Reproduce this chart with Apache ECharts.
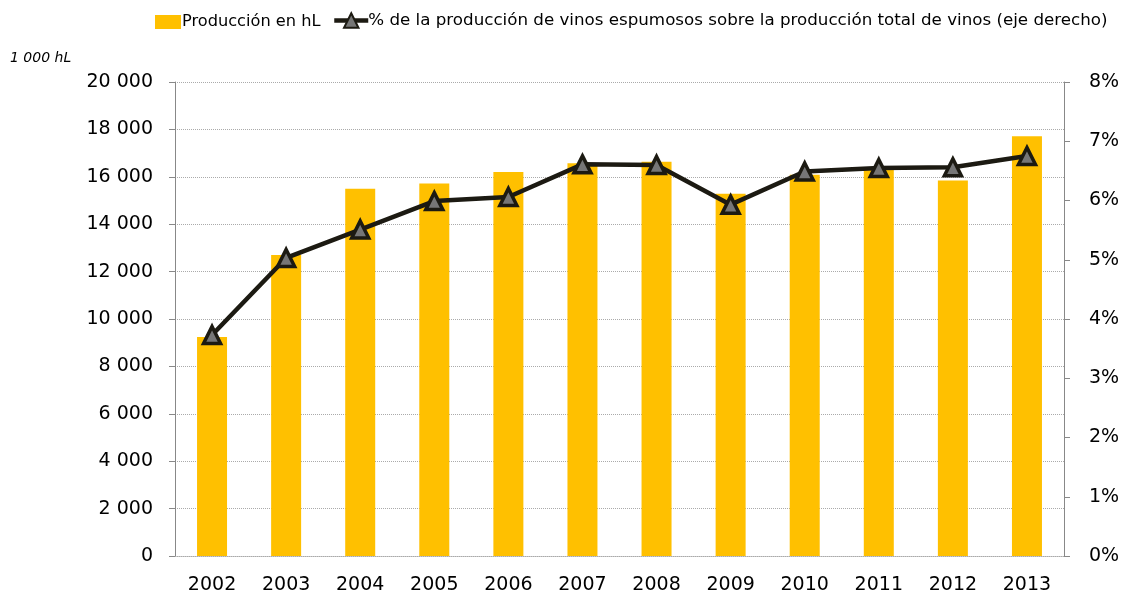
<!DOCTYPE html>
<html><head><meta charset="utf-8">
<script src="https://cdn.jsdelivr.net/npm/echarts@6/dist/echarts.min.js"></script>
<style>html,body{margin:0;padding:0;background:#fff}#c{width:1123px;height:595px}</style>
</head><body><div id="c"></div><script>
const years = ['2002','2003','2004','2005','2006','2007','2008','2009','2010','2011','2012','2013'];
const production = [9240, 12700, 15500, 15720, 16200, 16570, 16630, 15290, 16090, 16330, 15840, 17710];
const sparklingShare = [3.73, 5.03, 5.51, 5.99, 6.06, 6.61, 6.60, 5.93, 6.49, 6.55, 6.56, 6.75];
const barName = 'Producción en hL';
const lineName = '% de la producción de vinos espumosos sobre la producción total de vinos (eje derecho)';
const unitLabel = '1 000 hL';

const FONT = 'DejaVu Sans';
const chart = echarts.init(document.getElementById('c'), null, {renderer: 'canvas'});
chart.setOption({
  animation: false,
  textStyle: {fontFamily: FONT},
  grid: {left: 175, right: 59, top: 82, bottom: 39, containLabel: false},
  legend: [
    {data: [{name: barName, icon: 'rect'}], left: 150, top: 9, itemWidth: 26, itemHeight: 14, itemGap: 0,
     textStyle: {fontFamily: FONT, fontSize: 16.2, color: '#000', padding: [0,0,0,-4]}},
    {data: [lineName], left: 327, top: 7, itemWidth: 34, itemHeight: 18, itemGap: 0,
     lineStyle: {width: 4.5, color: '#1c1a12'},
     textStyle: {fontFamily: FONT, fontSize: 16.7, color: '#000', padding: [0,0,0,-5]}}
  ],
  graphic: [{type: 'text', left: 10, top: 51,
    style: {text: unitLabel, font: 'italic 14px "DejaVu Sans"', fill: '#000'}}],
  xAxis: {
    type: 'category', data: years,
    axisLine: {lineStyle: {color: '#aaa', type: 'dotted', width: 1}},
    axisTick: {show: false},
    axisLabel: {color: '#000', fontSize: 19, fontFamily: FONT, margin: 20}
  },
  yAxis: [
    {type: 'value', min: 0, max: 20000, interval: 2000, position: 'left',
     axisLine: {show: true, lineStyle: {color: '#888', width: 1}},
     axisTick: {show: true, length: 6, lineStyle: {color: '#888'}},
     axisLabel: {color: '#000', fontSize: 19, fontFamily: FONT, margin: 22,
       formatter: v => { const s = String(v); return s.length > 3 ? s.slice(0, s.length-3) + ' ' + s.slice(-3) : s; }},
     splitLine: {show: true, lineStyle: {color: '#aaa', type: 'dotted', width: 1}}},
    {type: 'value', min: 0, max: 8, interval: 1, position: 'right',
     axisLine: {show: true, lineStyle: {color: '#888', width: 1}},
     axisTick: {show: true, length: 6, lineStyle: {color: '#888'}},
     axisLabel: {color: '#000', fontSize: 19, fontFamily: FONT, margin: 25, formatter: '{value}%'},
     splitLine: {show: false}}
  ],
  series: [
    {name: barName, type: 'bar', data: production, yAxisIndex: 0, barWidth: 30,
     itemStyle: {color: '#FFC000'}},
    {name: lineName, type: 'line', data: sparklingShare, yAxisIndex: 1,
     symbol: 'triangle', symbolSize: 17,
     lineStyle: {color: '#1c1a12', width: 4.5},
     itemStyle: {color: '#767676', borderColor: '#1c1a12', borderWidth: 3.5}}
  ]
});
</script></body></html>
